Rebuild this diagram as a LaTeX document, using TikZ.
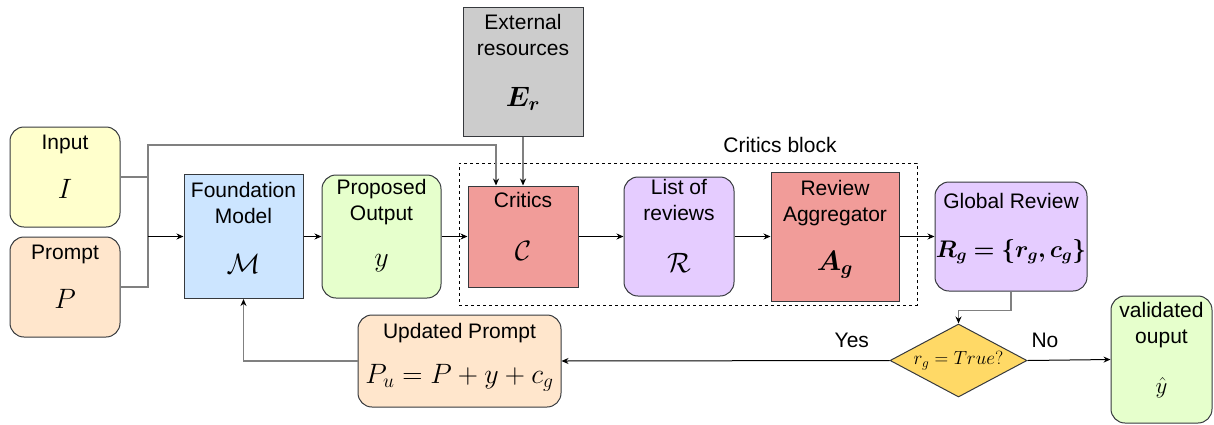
\RequirePackage{fix-cm}
\documentclass[tikz,border=0pt]{standalone}
\usepackage[no-math]{fontspec}
\setmainfont{Liberation Sans}
\usepackage{bm}
\usetikzlibrary{shapes, arrows.meta}

\definecolor{inputfill}{HTML}{FFFFCC}
\definecolor{promptfill}{HTML}{FFE6CC}
\definecolor{modelfill}{HTML}{CCE5FF}
\definecolor{outputfill}{HTML}{E6FFCC}
\definecolor{criticfill}{HTML}{F19C99}
\definecolor{extfill}{HTML}{CCCCCC}
\definecolor{reviewfill}{HTML}{E5CCFF}
\definecolor{decisionfill}{HTML}{FFD966}
\definecolor{edge}{HTML}{36393D}
\definecolor{wire}{HTML}{808080}

\tikzstyle{box} = [rectangle, draw=edge, line width=1pt, inner sep=0pt]
\tikzstyle{roundbox} = [box, rounded corners=14pt]
\tikzstyle{frame} = [rectangle, draw=black, line width=0.8pt, dash pattern=on 3pt off 3pt, inner sep=0pt]
\tikzstyle{decision} = [diamond, aspect=1.9, draw=edge, line width=1pt, inner sep=0pt, fill=decisionfill]
\tikzstyle{title} = [align=center, anchor=north, inner sep=0pt]
\tikzstyle{sym} = [font=\fontsize{28}{32}\selectfont, inner sep=0pt]
\tikzstyle{arrow} = [line width=1pt, -{Stealth[length=7pt, width=6pt]}]
\tikzstyle{greyline} = [line width=1.3pt, draw=wire]
\tikzstyle{greyarrow} = [greyline, -{Stealth[length=7pt, width=6pt, color=black]}]

\begin{document}
\begin{tikzpicture}[x=1pt, y=-1pt, font=\fontsize{21}{26}\selectfont]
\useasboundingbox (0,0) rectangle (1214,424);

% dashed frame round the critics
\node (critblock) [frame, minimum width=458pt, minimum height=142pt] at (688,234) {};
\node (critlabel) [inner sep=0pt] at (780,145) {Critics block};

% boxes
\node (input) [roundbox, fill=inputfill, minimum width=110pt, minimum height=100pt] at (65,177) {};
\node (prompt) [roundbox, fill=promptfill, minimum width=110pt, minimum height=100pt] at (65,287) {};
\node (model) [box, fill=modelfill, minimum width=119pt, minimum height=124pt] at (243.5,236.5) {};
\node (proposed) [roundbox, fill=outputfill, minimum width=119pt, minimum height=123pt] at (381.5,236.5) {};
\node (ext) [box, fill=extfill, minimum width=120pt, minimum height=129pt] at (523,71.5) {};
\node (critics) [box, fill=criticfill, minimum width=110pt, minimum height=101pt] at (523,236.5) {};
\node (reviews) [roundbox, fill=reviewfill, minimum width=110pt, minimum height=119pt] at (679,236.5) {};
\node (aggregator) [box, fill=criticfill, minimum width=128pt, minimum height=129pt] at (835,236.5) {};
\node (global) [roundbox, fill=reviewfill, minimum width=152pt, minimum height=109pt] at (1011,236.5) {};
\node (check) [decision, minimum width=137pt, minimum height=73pt] at (958.5,360.5) {\fontsize{19}{22}\selectfont $r_g = True?$};
\node (updated) [roundbox, fill=promptfill, minimum width=203pt, minimum height=92pt] at (459.5,361) {};
\node (validated) [roundbox, fill=outputfill, minimum width=101pt, minimum height=127pt] at (1161.5,359.5) {};

% titles
\node (input-t) [title] at ([yshift=-8pt]input.north) {Input};
\node (prompt-t) [title] at ([yshift=-8pt]prompt.north) {Prompt};
\node (model-t) [title] at ([yshift=-8pt]model.north) {Foundation\\Model};
\node (proposed-t) [title] at ([yshift=-5pt]proposed.north) {Proposed\\Output};
\node (ext-t) [title] at ([yshift=-8pt]ext.north) {External\\resources};
\node (critics-t) [title] at ([yshift=-7pt]critics.north) {Critics};
\node (reviews-t) [title] at ([yshift=-3pt]reviews.north) {List of\\reviews};
\node (aggregator-t) [title] at ([yshift=-9pt]aggregator.north) {Review\\Aggregator};
\node (global-t) [title] at ([yshift=-12pt]global.north) {Global Review};
\node (updated-t) [title] at ([yshift=-9pt]updated.north) {Updated Prompt};
\node (validated-t) [title] at ([yshift=-7pt]validated.north) {validated\\ouput};

% symbols
\node (input-s) [sym] at ([yshift=-12pt]input.center) {$I$};
\node (prompt-s) [sym] at ([yshift=-12pt]prompt.center) {$P$};
\node (model-s) [sym] at ([yshift=-27pt]model.center) {$\mathcal{M}$};
\node (proposed-s) [sym] at ([yshift=-27pt]proposed.center) {$y$};
\node (ext-s) [sym] at ([yshift=-27pt]ext.center) {$\bm{E_r}$};
\node (critics-s) [sym] at ([yshift=-14pt]critics.center) {$\mathcal{C}$};
\node (reviews-s) [sym] at ([yshift=-26pt]reviews.center) {$\mathcal{R}$};
\node (aggregator-s) [sym] at ([yshift=-28pt]aggregator.center) {$\bm{A_g}$};
\node (global-s) [sym, font=\fontsize{24}{28}\selectfont] at ([yshift=-15pt]global.center) {$\bm{R_g = \{r_g, c_g\}}$};
\node (updated-s) [sym] at ([yshift=-17pt]updated.center) {$P_u = P + y + c_g$};
\node (validated-s) [sym, font=\fontsize{23}{26}\selectfont] at ([yshift=-28pt]validated.center) {$\hat{y}$};

% connectors
\coordinate (join) at (148,236.5);
\coordinate (bend) at (148,145);
\draw [greyline] (input.east) -| (join);
\draw [greyline] (prompt.east) -| (join);
\draw [arrow] (join) -- (model.west);
\draw [greyarrow] (input.east) -| (bend) -| ([xshift=-27pt]critics.north);
\draw [greyarrow] (ext) -- (critics);
\draw [arrow] (model) -- (proposed);
\draw [arrow] (proposed) -- (critics);
\draw [arrow] (critics) -- (reviews);
\draw [arrow] (reviews) -- (aggregator);
\draw [arrow] (aggregator) -- (global);
\draw [greyarrow] (global.south) -- ++(0,19) -| (check.north);
\draw [arrow] (check.west) -- node[above=12pt, pos=0.115, inner sep=0pt] (yes) {Yes} (updated.east);
\draw [arrow] (check.east) -- node[above=12pt, pos=0.21, inner sep=0pt] (no) {No} (validated.west);
\draw [greyarrow] (updated.west) -| (model.south);
\end{tikzpicture}
\end{document}
